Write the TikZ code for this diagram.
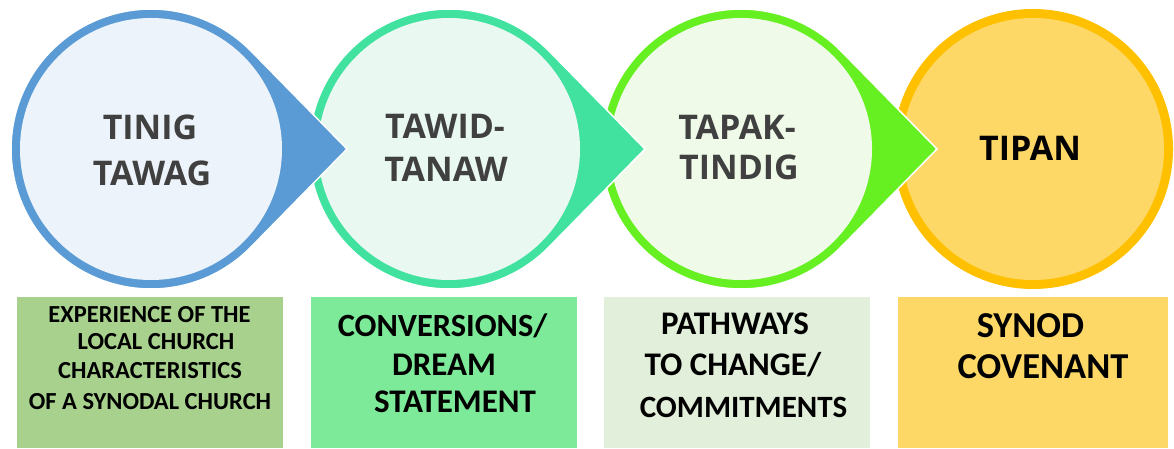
\documentclass[tikz,border=0pt]{standalone}
\usepackage{fontspec}
\setmainfont{Carlito}
\newfontfamily\circfont{Open Sans}
\definecolor{ringA}{HTML}{5B9BD5}
\definecolor{fillA}{HTML}{EDF3FA}
\definecolor{ringB}{HTML}{41E29F}
\definecolor{fillB}{HTML}{E9F9F2}
\definecolor{ringC}{HTML}{66F022}
\definecolor{fillC}{HTML}{EFFBE8}
\definecolor{ringD}{HTML}{FFC000}
\definecolor{fillD}{HTML}{FDD866}
\definecolor{boxA}{HTML}{A9D18E}
\definecolor{boxB}{HTML}{7DEA9A}
\definecolor{boxC}{HTML}{E2EFDA}
\definecolor{boxD}{HTML}{FDD866}
\definecolor{ctext}{HTML}{404040}
\tikzset{
  inner/.style={circle, minimum size=262pt, inner sep=0pt},
  drop/.style={draw=white, line width=1.5pt, line join=miter},
  ctxt/.style={anchor=base, inner sep=0pt, font=\circfont\bfseries\fontsize{34}{40}\selectfont, text=ctext},
  boxstyle/.style={rectangle, inner sep=0pt, minimum height=151pt},
  stxt/.style={anchor=base, inner sep=0pt, font=\bfseries\fontsize{24.5}{29}\selectfont},
  btxt/.style={anchor=base, inner sep=0pt, font=\bfseries\fontsize{33}{40}\selectfont},
}
\begin{document}
\begin{tikzpicture}[x=1pt,y=1pt]
\useasboundingbox (0,0) rectangle (1174,449);
% circle 4
\fill[ringD] (1033,300) circle[radius=140];
\node[inner, fill=fillD] (c4) at (1033,300) {};
% circle 3 teardrop
\coordinate (t3) at (937,300);
\path[drop, fill=ringC] (841,398) -- (t3) -- (841,202) arc[start angle=-44.42, end angle=-315.58, radius=140] -- cycle;
\node[inner, fill=fillC] (c3) at (741,300) {};
% circle 2 teardrop
\coordinate (t2) at (645,300);
\path[drop, fill=ringB] (549,398) -- (t2) -- (549,202) arc[start angle=-44.42, end angle=-315.58, radius=140] -- cycle;
\node[inner, fill=fillB] (c2) at (449,300) {};
% circle 1 teardrop
\coordinate (t1) at (347,300);
\path[drop, fill=ringA] (251,398) -- (t1) -- (251,202) arc[start angle=-44.42, end angle=-315.58, radius=140] -- cycle;
\node[inner, fill=fillA] (c1) at (151,300) {};
% circle texts
\node[ctxt] (l1a) at (150,309) {TINIG};
\node[ctxt] (l1b) at (152,263) {TAWAG};
\node[ctxt] (l2a) at (445,310) {TAWID-};
\node[ctxt] (l2b) at (446,267) {TANAW};
\node[ctxt] (l3a) at (737,309) {TAPAK-};
\node[ctxt] (l3b) at (739,269) {TINDIG};
\node[ctxt, text=black] (l4a) at (1030,288) {TIPAN};
% boxes
\node[boxstyle, fill=boxA, minimum width=266pt] (b1) at (150,76.5) {};
\node[boxstyle, fill=boxB, minimum width=266pt] (b2) at (444,76.5) {};
\node[boxstyle, fill=boxC, minimum width=266pt] (b3) at (737,76.5) {};
\node[boxstyle, fill=boxD, minimum width=270pt] (b4) at (1033,76.5) {};
% box texts
\node[stxt] (s1a) at (149.5,126) {EXPERIENCE OF THE};
\node[stxt] (s1b) at (156,99) {LOCAL CHURCH};
\node[stxt] (s1c) at (150,70) {CHARACTERISTICS};
\node[stxt] (s1d) at (150,39) {OF A SYNODAL CHURCH};
\node[btxt, font=\bfseries\fontsize{32.4}{40}\selectfont] (s2a) at (442.5,112) {CONVERSIONS/};
\node[btxt] (s2b) at (444,73) {DREAM};
\node[btxt] (s2c) at (455,36) {STATEMENT};
\node[btxt] (s3a) at (735,114) {PATHWAYS};
\node[btxt] (s3b) at (733,73) {TO CHANGE/};
\node[btxt, font=\bfseries\fontsize{31}{40}\selectfont] (s3c) at (743.5,31) {COMMITMENTS};
\node[btxt, font=\bfseries\fontsize{36.5}{40}\selectfont] (s4a) at (1030.5,111) {SYNOD};
\node[btxt, font=\bfseries\fontsize{36.5}{40}\selectfont] (s4b) at (1043,70) {COVENANT};
\end{tikzpicture}
\end{document}
